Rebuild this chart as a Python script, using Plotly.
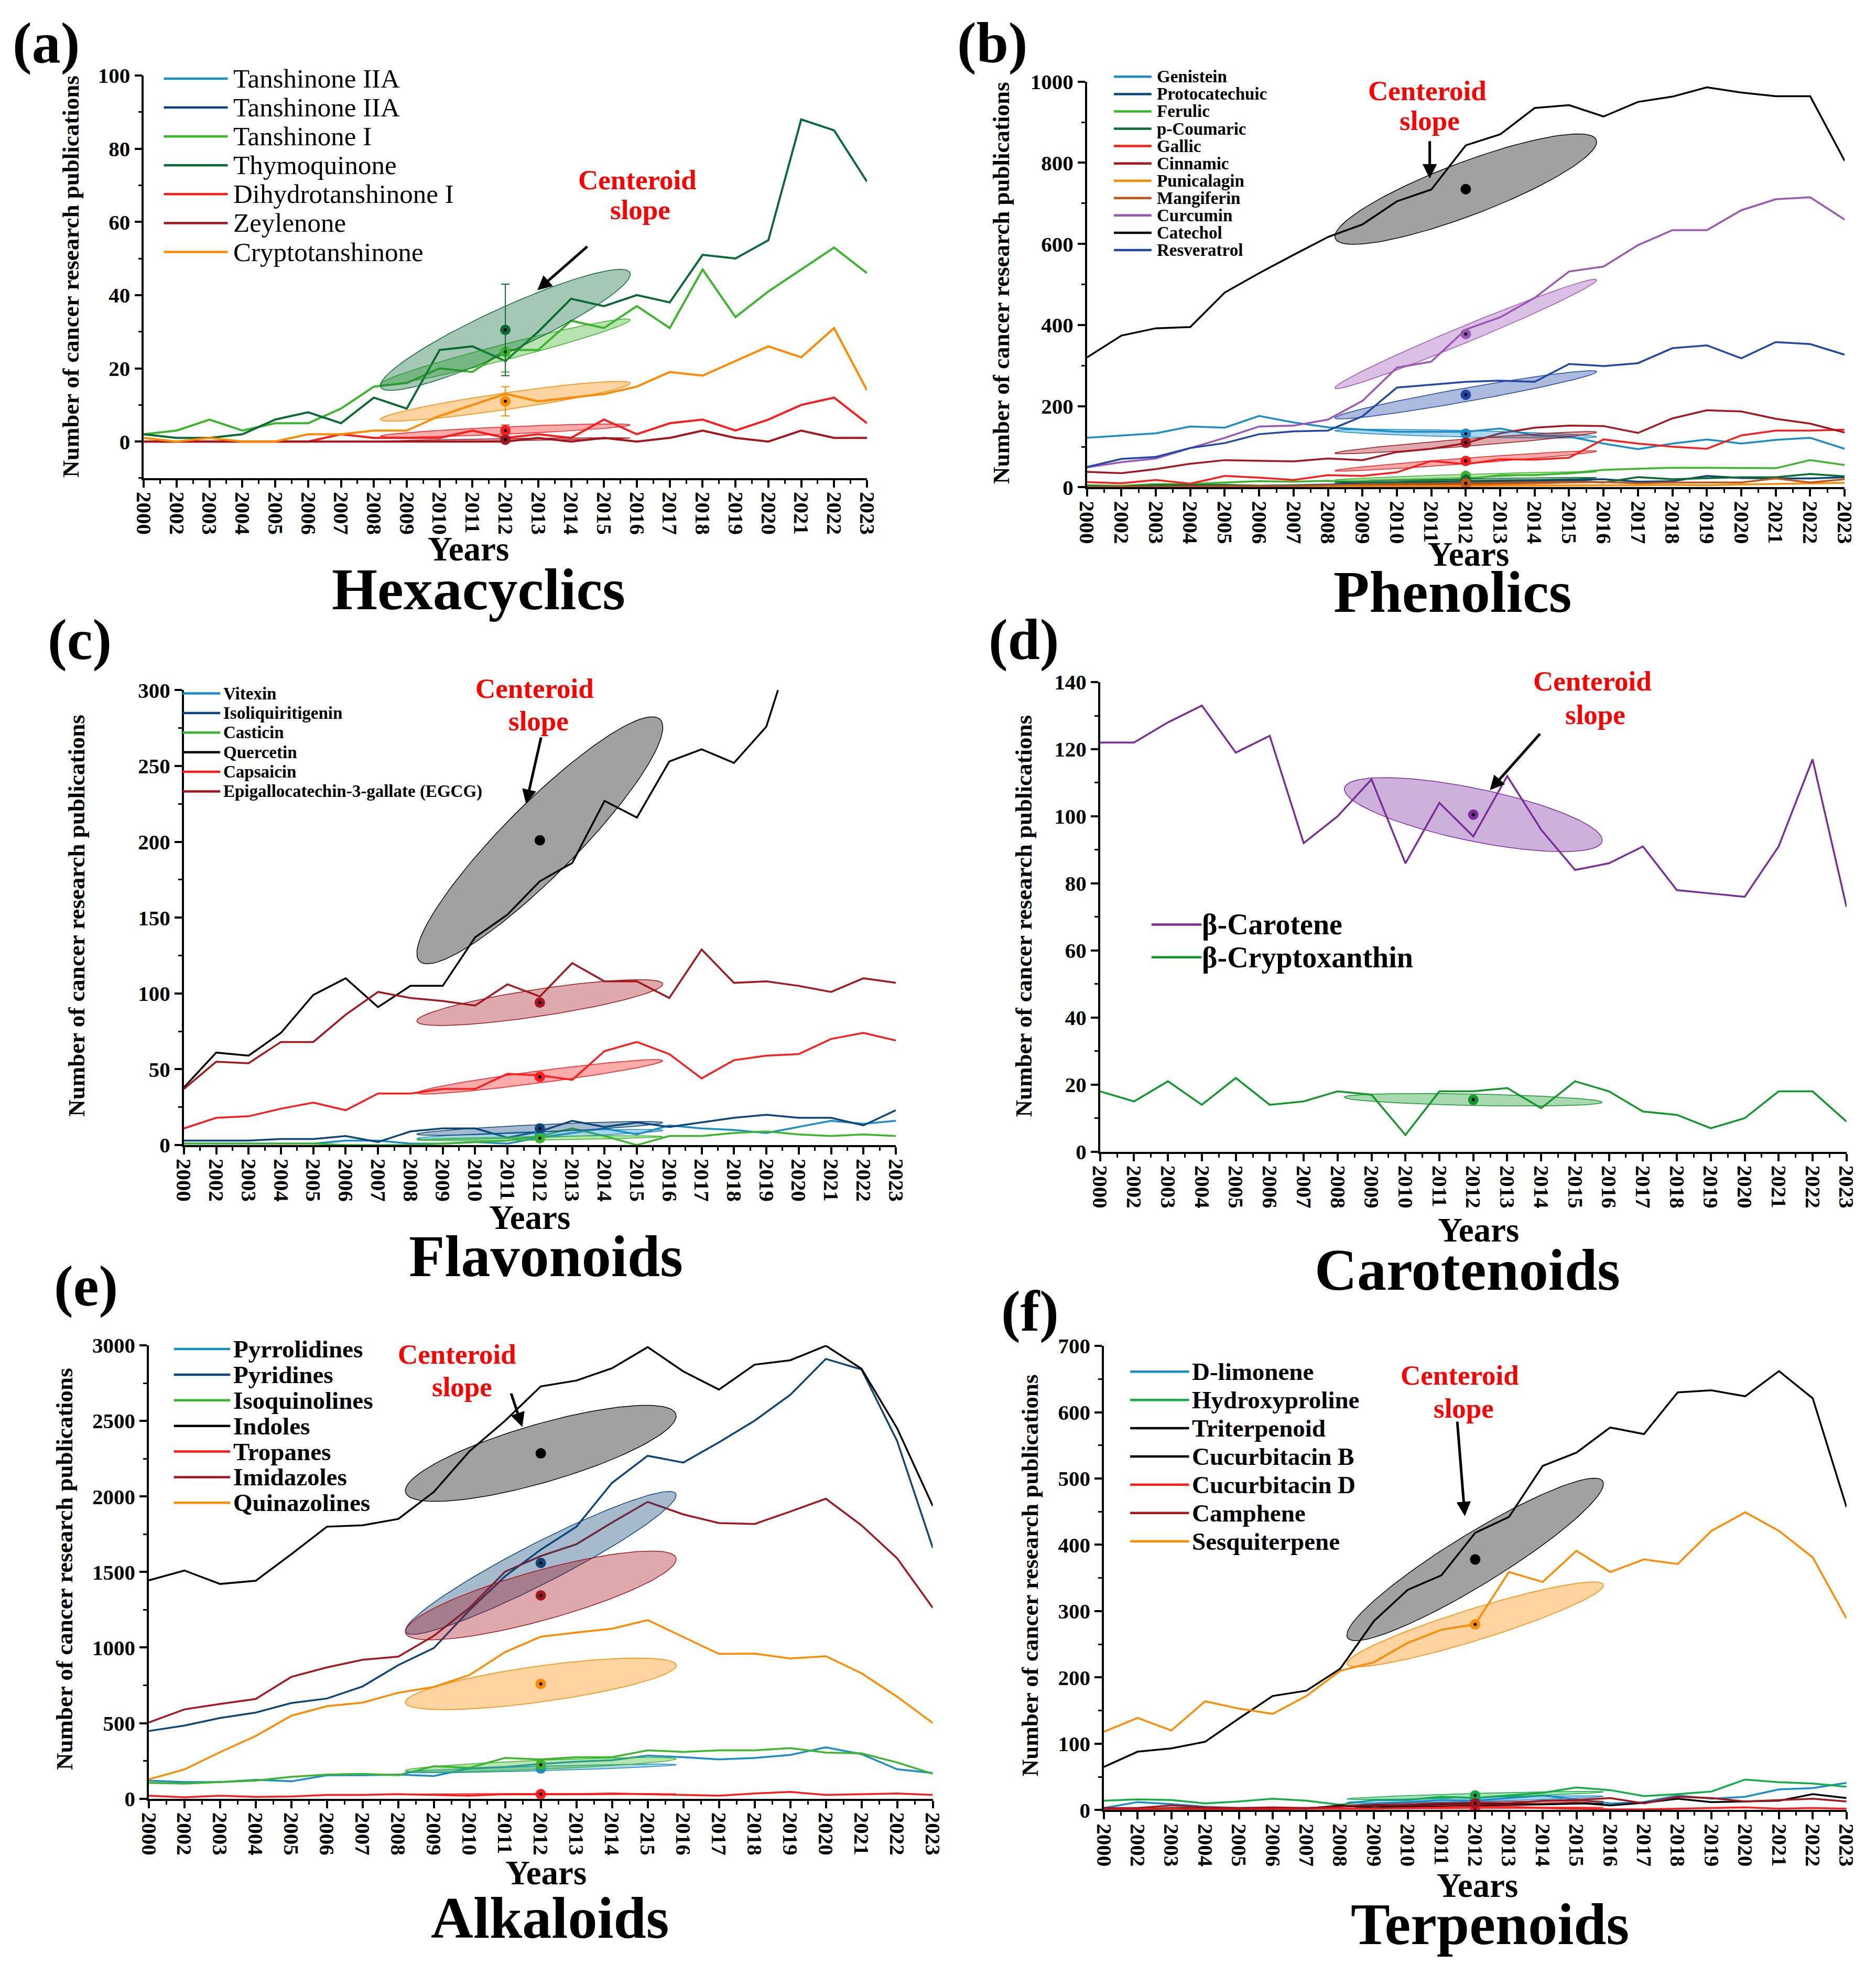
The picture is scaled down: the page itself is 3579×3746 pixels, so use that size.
import numpy as np
import plotly.graph_objects as go

# x categories (the source figure skips 2001)
years = ['2000'] + [str(y) for y in range(2002, 2024)]

# ---------------- (a) Hexacyclics ----------------
tanshinone_i = [2, 3, 6, 3, 5, 5, 9, 15, 16, 20, 19, 25, 25, 33, 31, 37, 31, 47, 34, 41, 47, 53, 46]
thymoquinone = [2, 1, 1, 2, 6, 8, 5, 12, 9, 25, 26, 22, 30, 39, 37, 40, 38, 51, 50, 55, 88, 85, 71]
dihydrotanshinone_i = [0, 0, 0, 0, 0, 0, 2, 1, 1, 1, 3, 1, 2, 1, 6, 2, 5, 6, 3, 6, 10, 12, 5]
zeylenone = [0, 0, 0, 0, 0, 0, 0, 0, 0, 0, 0, 0, 1, 0, 1, 0, 1, 3, 1, 0, 3, 1, 1]
cryptotanshinone = [1, 0, 1, 0, 0, 2, 2, 3, 3, 7, 10, 13, 11, 12, 13, 15, 19, 18, 22, 26, 23, 31, 14]

# ---------------- (b) Phenolics ----------------
genistein = [122, 128, 133, 150, 147, 176, 160, 148, 143, 137, 137, 137, 145, 128, 125, 108, 94, 108, 118, 108, 117, 122, 95]
protocatechuic = [1, 1, 3, 3, 5, 4, 5, 7, 8, 10, 12, 13, 14, 16, 18, 20, 14, 15, 28, 23, 22, 22, 25]
ferulic = [5, 4, 8, 8, 12, 15, 14, 16, 12, 13, 18, 20, 30, 30, 35, 43, 46, 48, 48, 47, 47, 67, 55]
p_coumaric = [3, 2, 5, 5, 6, 4, 4, 5, 6, 7, 8, 9, 10, 13, 15, 12, 25, 20, 22, 25, 25, 33, 27]
gallic = [13, 10, 18, 9, 28, 24, 18, 30, 28, 37, 65, 57, 69, 68, 73, 118, 108, 100, 95, 128, 140, 140, 142]
cinnamic = [38, 35, 45, 58, 67, 66, 64, 71, 67, 87, 95, 109, 133, 147, 152, 151, 134, 170, 190, 187, 169, 157, 135]
punicalagin = [0, 0, 1, 1, 1, 1, 2, 2, 3, 3, 3, 3, 4, 4, 5, 5, 5, 6, 5, 7, 8, 10, 11]
mangiferin = [1, 1, 2, 2, 3, 3, 3, 5, 5, 5, 6, 7, 8, 10, 12, 13, 10, 12, 12, 12, 22, 12, 20]
curcumin = [49, 62, 71, 96, 122, 150, 152, 167, 213, 295, 310, 389, 419, 467, 532, 544, 597, 634, 634, 683, 710, 715, 660]
catechol = [320, 374, 392, 395, 480, 528, 573, 617, 648, 705, 734, 843, 870, 935, 942, 914, 950, 963, 986, 973, 964, 964, 805]
resveratrol = [50, 70, 75, 97, 109, 131, 138, 140, 175, 246, 253, 260, 263, 260, 304, 299, 306, 343, 350, 318, 358, 353, 327]

# ---------------- (c) Flavonoids ----------------
vitexin = [1, 1, 1, 1, 1, 3, 3, 1, 1, 2, 1, 5, 8, 11, 7, 13, 11, 10, 8, 12, 16, 14, 16]
isoliquiritigenin = [3, 3, 3, 4, 4, 6, 2, 9, 11, 11, 5, 9, 16, 12, 15, 12, 15, 18, 20, 18, 18, 13, 23]
casticin = [1, 1, 1, 1, 1, 0, 0, 0, 1, 2, 3, 6, 11, 6, 0, 6, 6, 8, 9, 7, 6, 7, 6]
quercetin = [38, 61, 59, 74, 99, 110, 91, 105, 105, 137, 152, 174, 186, 227, 216, 253, 261, 252, 276, 343, None, None, None]
capsaicin = [11, 18, 19, 24, 28, 23, 34, 34, 37, 37, 47, 46, 43, 62, 68, 60, 44, 56, 59, 60, 70, 74, 69]
egcg = [37, 55, 54, 68, 68, 86, 101, 97, 95, 92, 106, 98, 120, 108, 108, 97, 129, 107, 108, 105, 101, 110, 107]

# ---------------- (d) Carotenoids ----------------
b_carotene = [122, 122, 128, 133, 119, 124, 92, 100, 111, 86, 104, 94, 112, 96, 84, 86, 91, 78, 77, 76, 91, 117, 73]
b_cryptoxanthin = [18, 15, 21, 14, 22, 14, 15, 18, 17, 5, 18, 18, 19, 13, 21, 18, 12, 11, 7, 10, 18, 18, 9]

# ---------------- (e) Alkaloids ----------------
pyrrolidines = [120, 110, 110, 125, 115, 155, 155, 160, 150, 200, 210, 230, 245, 255, 285, 275, 260, 270, 290, 340, 295, 195, 170]
pyridines = [448, 484, 534, 570, 633, 663, 743, 884, 997, 1248, 1472, 1648, 1800, 2090, 2269, 2224, 2358, 2501, 2672, 2910, 2840, 2367, 1660]
isoquinolines = [105, 100, 110, 120, 145, 160, 165, 155, 215, 205, 270, 260, 275, 275, 320, 310, 320, 320, 335, 305, 300, 240, 165]
indoles = [1445, 1510, 1421, 1442, 1618, 1800, 1809, 1851, 2030, 2299, 2501, 2728, 2767, 2848, 2988, 2827, 2707, 2872, 2901, 2997, 2845, 2451, 1937]
tropanes = [20, 10, 20, 12, 15, 25, 25, 30, 25, 20, 30, 30, 30, 35, 30, 25, 20, 35, 45, 25, 30, 35, 25]
imidazoles = [504, 591, 627, 660, 806, 869, 919, 940, 1078, 1263, 1502, 1606, 1684, 1827, 1964, 1881, 1824, 1818, 1900, 1985, 1809, 1591, 1263]
quinazolines = [128, 194, 308, 415, 549, 612, 636, 701, 740, 818, 970, 1072, 1100, 1125, 1182, 1070, 958, 960, 928, 943, 830, 675, 501]

# ---------------- (f) Terpenoids ----------------
d_limonene = [3, 12, 9, 5, 3, 3, 3, 5, 10, 12, 15, 14, 18, 22, 16, 10, 12, 22, 17, 20, 31, 33, 41]
hydroxyproline = [14, 16, 15, 10, 13, 17, 14, 8, 15, 15, 20, 18, 22, 26, 34, 30, 21, 24, 28, 46, 42, 40, 35]
triterpenoid = [65, 88, 93, 103, 138, 172, 180, 213, 285, 332, 354, 418, 442, 519, 539, 577, 567, 630, 633, 624, 662, 621, 457]
cucurbitacin_b = [2, 1, 3, 2, 2, 3, 2, 7, 3, 5, 5, 6, 8, 9, 11, 7, 11, 17, 12, 13, 14, 24, 18]
cucurbitacin_d = [2, 1, 2, 1, 1, 1, 2, 2, 2, 3, 4, 5, 5, 3, 2, 1, 1, 2, 3, 4, 2, 3, 2]
camphene = [3, 3, 7, 4, 3, 4, 3, 5, 6, 7, 10, 10, 10, 14, 15, 18, 10, 20, 18, 13, 15, 17, 13]
sesquiterpene = [118, 139, 120, 164, 153, 145, 172, 210, 223, 252, 272, 280, 359, 344, 391, 359, 378, 371, 421, 449, 421, 381, 289]

# centroid (2012) ellipses: name -> (centroid, slope per year, half thickness)
hex_ell = {'Thymoquinone': (30.5, 4.0, 6.5), 'Tanshinone I': (24.5, 2.3, 2.2),
           'Cryptotanshinone': (11, 1.3, 2.3), 'Dihydrotanshinone I': (3, 0.4, 1.0),
           'Zeylenone': (0.5, 0.12, 0.3)}
hex_err = {'Thymoquinone': 12.5, 'Tanshinone I': 5.5, 'Cryptotanshinone': 4,
           'Dihydrotanshinone I': 1.5, 'Zeylenone': 0.5}
phe_ell = {'Catechol': (735, 30.7, 70), 'Curcumin': (378, 35, 22), 'Resveratrol': (228, 15, 17),
           'Genistein': (132, -2, 8), 'Cinnamic': (110, 6.8, 9), 'Gallic': (65, 6.3, 7),
           'Ferulic': (28, 2.6, 4), 'p-Coumaric': (18, 1.5, 3), 'Protocatechuic': (14, 1.3, 3),
           'Mangiferin': (10, 1.0, 2), 'Punicalagin': (4, 0.4, 1)}
fla_ell = {'Quercetin': (201, 19.6, 33), 'Epigallocatechin-3-gallate (EGCG)': (94, 3.2, 9),
           'Capsaicin': (45, 2.8, 4), 'Isoliquiritigenin': (11, 1.0, 2.5),
           'Vitexin': (7, 0.7, 2), 'Casticin': (4.5, 0.3, 1.2)}
car_ell = {'β-Carotene': (100.5, -2.0, 8), 'β-Cryptoxanthin': (15.5, -0.2, 1.7)}
alk_ell = {'Indoles': (2285, 65, 200), 'Pyridines': (1560, 118, 150), 'Imidazoles': (1345, 63, 170),
           'Quinazolines': (760, 32, 120), 'Isoquinolines': (225, 10, 30),
           'Pyrrolidines': (200, 6.5, 15), 'Tropanes': (30, 0.5, 5)}
ter_ell = {'Triterpenoid': (378, 30, 45), 'Sesquiterpene': (280, 15.5, 25),
           'Hydroxyproline': (22, 1.4, 3), 'D-limonene': (16, 1.2, 3), 'Camphene': (10, 0.8, 2),
           'Cucurbitacin B': (8, 0.5, 1.5), 'Cucurbitacin D': (3, 0.2, 1)}

LBLUE, NAVY, LGREEN, DGREEN = '#1a8dc8', '#0d4577', '#3bb52c', '#0b6a35'
RED, DRED, ORANGE, BROWN = '#fb1c1c', '#a3161d', '#ff8a00', '#c2561a'
PURPLE, BLUE, BLACK = '#9b55b5', '#1f47a3', '#000000'

panels = [
    dict(series=[('Tanshinone IIA', LBLUE, None), ('Tanshinone IIA', NAVY, None),
                 ('Tanshinone I', LGREEN, tanshinone_i), ('Thymoquinone', DGREEN, thymoquinone),
                 ('Dihydrotanshinone I', RED, dihydrotanshinone_i), ('Zeylenone', DRED, zeylenone),
                 ('Cryptotanshinone', ORANGE, cryptotanshinone)],
         ell=hex_ell, err=hex_err, yrange=[-10, 100], dtick=20, title='Hexacyclics'),
    dict(series=[('Genistein', LBLUE, genistein), ('Protocatechuic', NAVY, protocatechuic),
                 ('Ferulic', LGREEN, ferulic), ('p-Coumaric', DGREEN, p_coumaric),
                 ('Gallic', RED, gallic), ('Cinnamic', DRED, cinnamic),
                 ('Punicalagin', ORANGE, punicalagin), ('Mangiferin', BROWN, mangiferin),
                 ('Curcumin', PURPLE, curcumin), ('Catechol', BLACK, catechol),
                 ('Resveratrol', BLUE, resveratrol)],
         ell=phe_ell, err=None, yrange=[0, 1000], dtick=200, title='Phenolics'),
    dict(series=[('Vitexin', LBLUE, vitexin), ('Isoliquiritigenin', NAVY, isoliquiritigenin),
                 ('Casticin', LGREEN, casticin), ('Quercetin', BLACK, quercetin),
                 ('Capsaicin', RED, capsaicin), ('Epigallocatechin-3-gallate (EGCG)', DRED, egcg)],
         ell=fla_ell, err=None, yrange=[0, 300], dtick=50, title='Flavonoids'),
    dict(series=[('β-Carotene', '#7b2c9a', b_carotene), ('β-Cryptoxanthin', '#12982a', b_cryptoxanthin)],
         ell=car_ell, err=None, yrange=[0, 140], dtick=20, title='Carotenoids'),
    dict(series=[('Pyrrolidines', LBLUE, pyrrolidines), ('Pyridines', NAVY, pyridines),
                 ('Isoquinolines', LGREEN, isoquinolines), ('Indoles', BLACK, indoles),
                 ('Tropanes', RED, tropanes), ('Imidazoles', DRED, imidazoles),
                 ('Quinazolines', ORANGE, quinazolines)],
         ell=alk_ell, err=None, yrange=[0, 3000], dtick=500, title='Alkaloids'),
    dict(series=[('D-limonene', LBLUE, d_limonene), ('Hydroxyproline', '#13ad45', hydroxyproline),
                 ('Triterpenoid', BLACK, triterpenoid), ('Cucurbitacin B', BLACK, cucurbitacin_b),
                 ('Cucurbitacin D', RED, cucurbitacin_d), ('Camphene', DRED, camphene),
                 ('Sesquiterpene', ORANGE, sesquiterpene)],
         ell=ter_ell, err=None, yrange=[0, 700], dtick=100, title='Terpenoids'),
]

# layout positions, measured on a 1500 x 1568 preview of the figure;
# the photographed page comes out slightly shrunk and offset, so positions are corrected
W, H = 3579, 3746
OFF, SC = 13.85, 0.985
S = W / 1500 / SC


def P(xd, yd):
    return (xd - OFF) / SC / 1500, 1 - (yd - OFF) / SC / 1568


def dom(x0, x1, y0, y1):
    a, b = P(x0, y1)
    c, d = P(x1, y0)
    return [a, c], [b, d]


geo = [
    dict(box=(116, 693, 61, 381.6), lab=(38, 35), ttl=(383, 470), yrs=(375, 438), ytl=(58, 221),
         leg=dict(x0=132, x1=183, tx=187, y0=63.5, dy=23, size=51, bold=False),
         cen=((510, 144), (512, 168)), arr=((470, 197), (430, 232))),
    dict(box=(868.5, 1473, 65.9, 388.9), lab=(793, 35), ttl=(1160, 472), yrs=(1173, 442), ytl=(800, 226),
         leg=dict(x0=890, x1=920, tx=924, y0=62, dy=13.8, size=33, bold=True),
         cen=((1140, 73), (1142, 97)), arr=((1142, 113), (1142, 143))),
    dict(box=(148, 716, 550.4, 912.6), lab=(65, 510), ttl=(437, 1001), yrs=(424, 970), ytl=(62, 730),
         leg=dict(x0=147, x1=177, tx=179, y0=553, dy=15.6, size=33, bold=True),
         cen=((428, 549), (431, 575)), arr=((433, 588), (421, 641))),
    dict(box=(879, 1474.5, 544, 917.9), lab=(818, 510), ttl=(1172, 1012), yrs=(1181, 980), ytl=(818, 730),
         leg=dict(x0=920, x1=960, tx=960, y0=737, dy=26, size=56, bold=True),
         cen=((1272, 543), (1274, 570)), arr=((1230, 585), (1190, 630))),
    dict(box=(120, 745.5, 1072, 1433), lab=(70, 1025), ttl=(440, 1528), yrs=(437, 1492), ytl=(53, 1250),
         leg=dict(x0=140, x1=185, tx=187, y0=1075, dy=20.4, size=47, bold=True),
         cen=((366, 1079), (370, 1105)), arr=((409, 1110), (418, 1137))),
    dict(box=(882, 1474.5, 1072.5, 1442), lab=(823, 1045), ttl=(1190, 1533), yrs=(1180, 1502), ytl=(823, 1255),
         leg=dict(x0=903, x1=950, tx=952, y0=1093, dy=22.5, size=47, bold=True),
         cen=((1166, 1096), (1169, 1122)), arr=((1164, 1133), (1170, 1208))),
]

FONT = 'Liberation Serif'
xs = list(range(len(years)))


def rgba(c, a):
    c = c.lstrip('#')
    return 'rgba(%d,%d,%d,%.2f)' % (int(c[0:2], 16), int(c[2:4], 16), int(c[4:6], 16), a)


def ellipse(cy, slope, half, cx=11.0, a=3.8):
    t = np.linspace(0, 2 * np.pi, 121)
    return cx + a * np.cos(t), cy + a * slope * np.cos(t) + half * np.sin(t)


def text(xd, yd, s, size, color='black', bold=True, angle=0, xanchor='center'):
    x, y = P(xd, yd)
    return dict(x=x, y=y, xref='paper', yref='paper', text=s, showarrow=False, textangle=angle,
                xanchor=xanchor, yanchor='middle', borderpad=0,
                font=dict(family=FONT, size=size, color=color, weight='bold' if bold else 'normal'))


fig = go.Figure()
annotations = []
shapes = []
layout_axes = {}
letters = 'abcdef'

for k, (p, g) in enumerate(zip(panels, geo), start=1):
    xa, ya = 'x%d' % k, 'y%d' % k
    lw = 4 if k == 1 else 3.5
    for name, col, vals in p['series']:
        if vals is None:
            continue
        fig.add_trace(go.Scatter(x=xs, y=vals, mode='lines', line=dict(color=col, width=lw),
                                 xaxis=xa, yaxis=ya, showlegend=False, hoverinfo='skip'))
    for name, col, vals in p['series']:
        if name not in p['ell'] or vals is None:
            continue
        cy, slope, half = p['ell'][name]
        ex, ey = ellipse(cy, slope, half)
        fig.add_trace(go.Scatter(x=ex, y=ey, mode='lines', fill='toself', fillcolor=rgba(col, 0.37),
                                 line=dict(color=col, width=1.5), xaxis=xa, yaxis=ya,
                                 showlegend=False, hoverinfo='skip'))
    for name, col, vals in p['series']:
        if name not in p['ell'] or vals is None:
            continue
        cy = p['ell'][name][0]
        err = None
        if p['err'] is not None:
            err = dict(type='data', array=[p['err'][name]], color=col, thickness=2, width=8)
        fig.add_trace(go.Scatter(x=[11], y=[cy], mode='markers', error_y=err,
                                 marker=dict(color=col, size=20, line=dict(width=0)),
                                 xaxis=xa, yaxis=ya, showlegend=False, hoverinfo='skip'))
        fig.add_trace(go.Scatter(x=[11], y=[cy], mode='markers', marker=dict(color='black', size=6),
                                 xaxis=xa, yaxis=ya, showlegend=False, hoverinfo='skip'))

    xd, yd = dom(*g['box'])
    axis_common = dict(showline=True, linecolor='black', linewidth=3.5, showgrid=False, zeroline=False,
                       ticks='outside', ticklen=14, tickwidth=3.5, tickcolor='black',
                       tickfont=dict(family=FONT, size=41, color='black', weight='bold'))
    layout_axes['xaxis%d' % k] = dict(
        axis_common, domain=xd, anchor=ya, range=[0, len(years) - 1],
        tickmode='array', tickvals=xs, ticktext=years, tickangle=90,
        minor=dict(tickmode='linear', tick0=0.5, dtick=1, ticklen=7, tickwidth=3, tickcolor='black', ticks='outside'))
    layout_axes['yaxis%d' % k] = dict(
        axis_common, domain=yd, anchor=xa, range=p['yrange'],
        tickmode='linear', tick0=0, dtick=p['dtick'],
        minor=dict(tickmode='linear', tick0=0, dtick=p['dtick'] / 2, ticklen=7, tickwidth=3, tickcolor='black', ticks='outside'))

    annotations.append(text(*g['lab'], '(%s)' % letters[k - 1], 110))
    annotations.append(text(*g['ttl'], p['title'], 112))
    annotations.append(text(*g['yrs'], 'Years', 65))
    annotations.append(text(*g['ytl'], 'Number of cancer research publications', 45, angle=-90))
    annotations.append(text(*g['cen'][0], 'Centeroid', 53, color='#ff0000'))
    annotations.append(text(*g['cen'][1], 'slope', 53, color='#ff0000'))

    (tx, ty), (hx, hy) = g['arr']
    x, y = P(hx, hy)
    annotations.append(dict(x=x, y=y, xref='paper', yref='paper', text='', showarrow=True,
                            ax=(tx - hx) * S, ay=(ty - hy) * S, arrowhead=2, arrowsize=1.1,
                            arrowwidth=5, arrowcolor='black'))

    # legend drawn by hand to keep the tight row spacing of the original
    lg = g['leg']
    for i, (name, col, vals) in enumerate(p['series']):
        yrow = lg['y0'] + i * lg['dy']
        x0, yy = P(lg['x0'], yrow)
        x1, _ = P(lg['x1'], yrow)
        shapes.append(dict(type='line', xref='paper', yref='paper', x0=x0, x1=x1, y0=yy, y1=yy,
                           line=dict(color=col, width=4.5)))
        annotations.append(text(lg['tx'], yrow, name, lg['size'], bold=lg['bold'], xanchor='left'))

fig.update_layout(width=W, height=H, margin=dict(l=0, r=0, t=0, b=0),
                  paper_bgcolor='white', plot_bgcolor='white', showlegend=False,
                  annotations=annotations, shapes=shapes, **layout_axes)

fig.write_html('out.html')
